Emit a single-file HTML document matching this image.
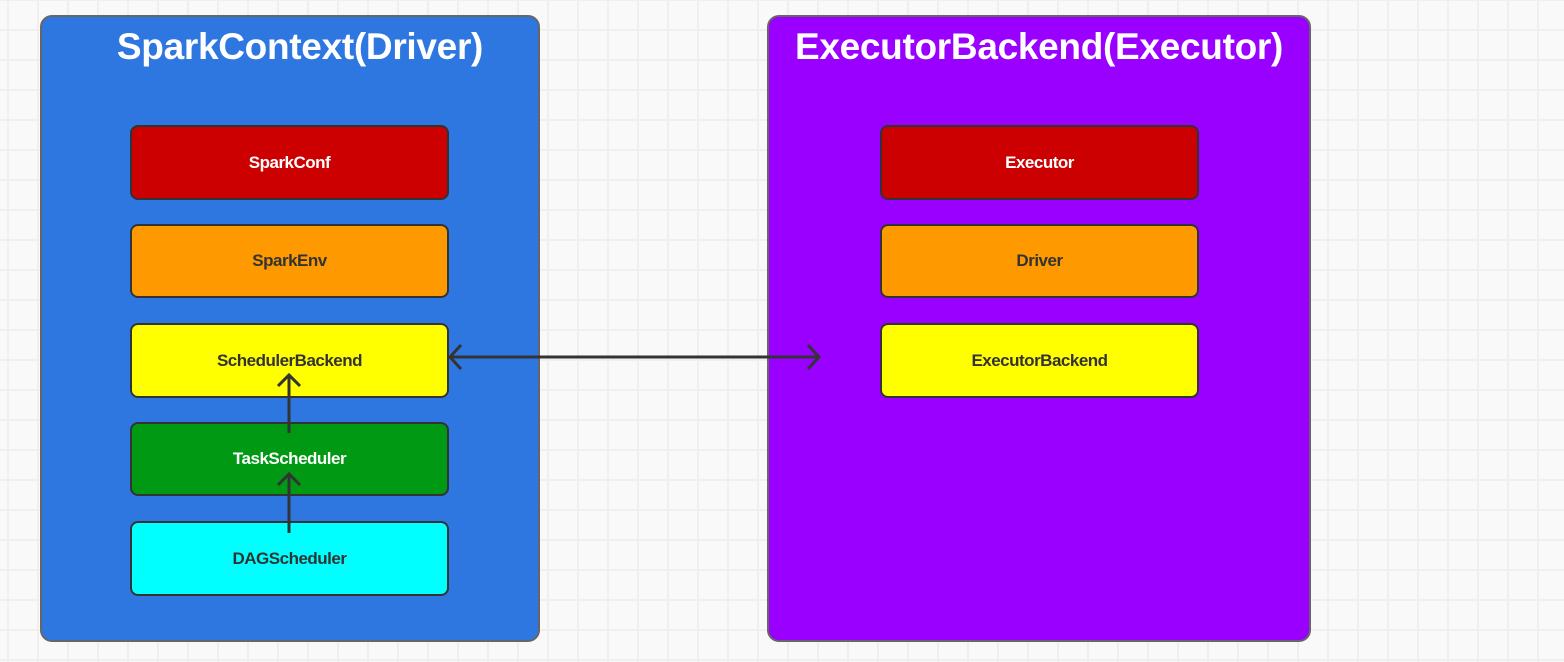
<!DOCTYPE html>
<html><head><style>
body{margin:0;width:1564px;height:662px;overflow:hidden;background-color:#f9f9f9;
background-image:linear-gradient(to right,#efefef 2px,transparent 2px),linear-gradient(to bottom,#efefef 2px,transparent 2px);
background-size:30px 30px;background-position:7px 29px;font-family:"Liberation Sans",sans-serif;position:relative}
.c{position:absolute;border:2px solid #666;border-radius:12px;box-sizing:border-box}
.t{position:absolute;left:0;right:0;top:9px;text-align:center;color:#fff;font-weight:bold;font-size:37px;letter-spacing:-0.3px}
.b{position:absolute;border:2px solid #333;border-radius:8px;box-sizing:border-box;display:flex;align-items:center;justify-content:center;font-weight:bold;font-size:17px;color:#333;letter-spacing:-0.5px}
</style></head><body>
<div class="c" style="left:40px;top:15px;width:500px;height:627px;background:#2e77e0"><div class="t" style="left:20px">SparkContext(Driver)</div></div>
<div class="c" style="left:767px;top:15px;width:544px;height:627px;background:#9900ff"><div class="t">ExecutorBackend(Executor)</div></div>
<div class="b" style="left:130px;top:125px;width:319px;height:75px;background:#cc0000;color:#fff">SparkConf</div>
<div class="b" style="left:130px;top:224px;width:319px;height:74px;background:#ff9900">SparkEnv</div>
<div class="b" style="left:130px;top:323px;width:319px;height:75px;background:#ffff00">SchedulerBackend</div>
<div class="b" style="left:130px;top:422px;width:319px;height:74px;background:#009914;color:#fff">TaskScheduler</div>
<div class="b" style="left:130px;top:521px;width:319px;height:75px;background:#00ffff">DAGScheduler</div>
<div class="b" style="left:880px;top:125px;width:319px;height:75px;background:#cc0000;color:#fff">Executor</div>
<div class="b" style="left:880px;top:224px;width:319px;height:74px;background:#ff9900">Driver</div>
<div class="b" style="left:880px;top:323px;width:319px;height:75px;background:#ffff00">ExecutorBackend</div>
<svg width="1564" height="662" style="position:absolute;left:0;top:0" fill="none" stroke="#333" stroke-width="3">
<line x1="450" y1="357" x2="819" y2="357"/>
<polyline points="461,345 450,357 461,369"/>
<polyline points="808,345 819,357 808,369"/>
<line x1="289" y1="375" x2="289" y2="433"/>
<polyline points="278,386 289,375 300,386"/>
<line x1="289" y1="474" x2="289" y2="533"/>
<polyline points="278,485 289,474 300,485"/>
</svg>
</body></html>
